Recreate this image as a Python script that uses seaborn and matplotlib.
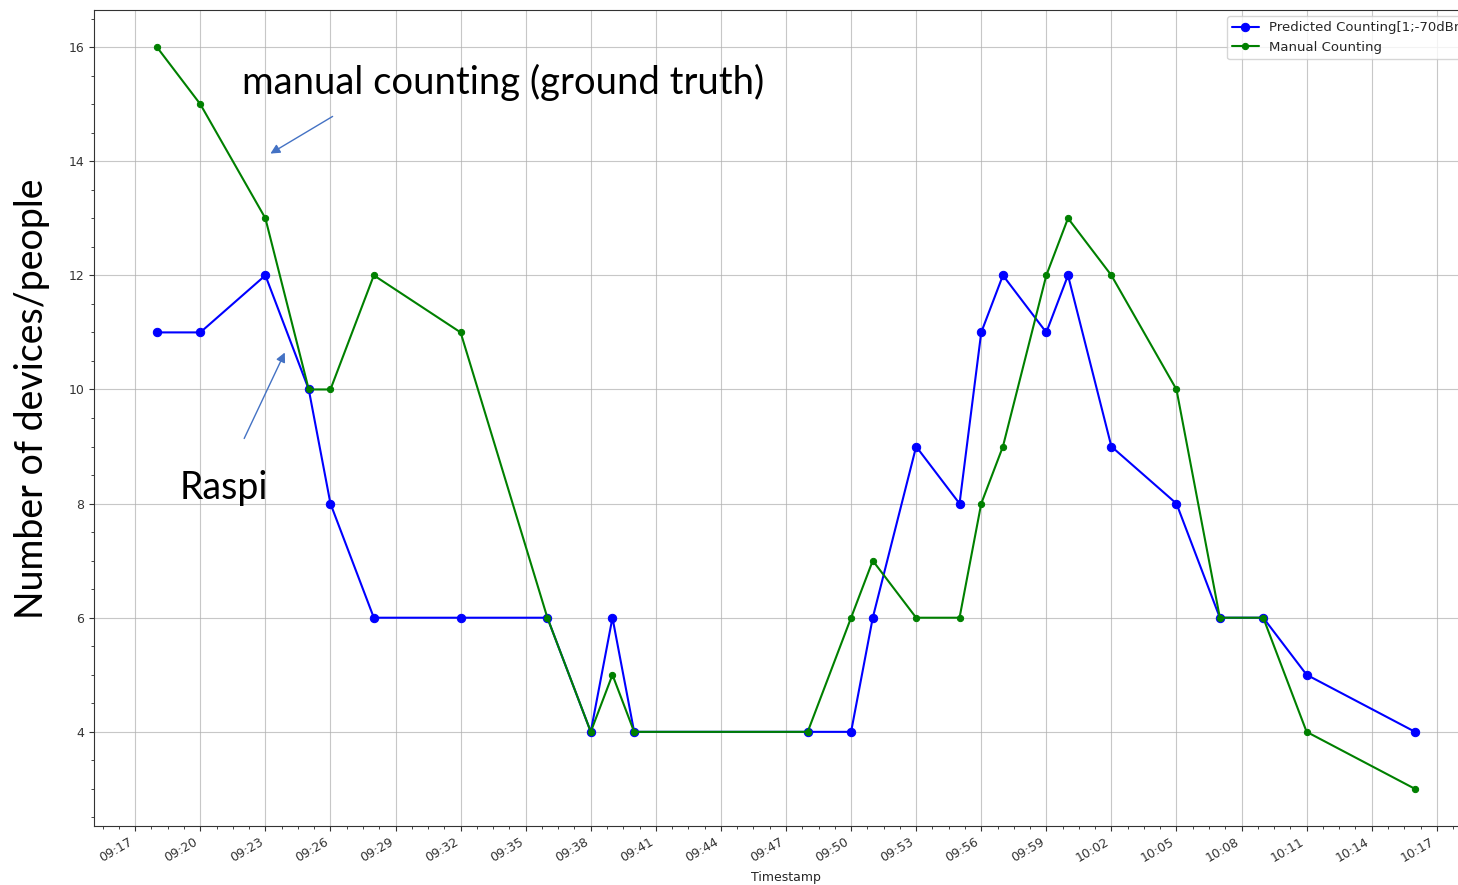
import matplotlib
matplotlib.use("Agg")
import matplotlib.pyplot as plt
import matplotlib.dates as mdates
from matplotlib.ticker import AutoMinorLocator
import pandas as pd
import seaborn as sns

# timestamps and counts
times = ["09:18", "09:20", "09:23", "09:25", "09:26", "09:28", "09:32", "09:36",
         "09:38", "09:39", "09:40", "09:48", "09:50", "09:51", "09:53", "09:55",
         "09:56", "09:57", "09:59", "10:00", "10:02", "10:05", "10:07", "10:09",
         "10:11", "10:16"]
predicted = [11, 11, 12, 10, 8, 6, 6, 6, 4, 6, 4, 4, 4, 6, 9, 8,
             11, 12, 11, 12, 9, 8, 6, 6, 5, 4]
manual = [16, 15, 13, 10, 10, 12, 11, 6, 4, 5, 4, 4, 6, 7, 6, 6,
          8, 9, 12, 13, 12, 10, 6, 6, 4, 3]

df = pd.DataFrame({
    "Timestamp": pd.to_datetime(["2020-01-01 " + t for t in times]),
    "predicted": predicted,
    "manual": manual,
})

sns.set_style("ticks")
W, H = 1458, 885
fig = plt.figure(figsize=(W / 100, H / 100), dpi=100)
ax = fig.add_axes([94 / W, (H - 826) / H, (1478 - 94) / W, (826 - 10) / H])

sns.lineplot(data=df, x="Timestamp", y="predicted", ax=ax, color="blue",
             marker="o", markersize=6, markeredgecolor="blue", linewidth=1.5,
             label="Predicted Counting[1;-70dBm]")
sns.lineplot(data=df, x="Timestamp", y="manual", ax=ax, color="green",
             marker="o", markersize=4.5, markeredgecolor="green", linewidth=1.5,
             label="Manual Counting")

ax.xaxis.set_major_locator(mdates.MinuteLocator(byminute=range(2, 60, 3)))
ax.xaxis.set_major_formatter(mdates.DateFormatter("%H:%M"))
ax.xaxis.set_minor_locator(AutoMinorLocator(4))
ax.yaxis.set_minor_locator(AutoMinorLocator(4))
ax.set_yticks([4, 6, 8, 10, 12, 14, 16])
ax.grid(True, which="major", color="#b0b0b0", linewidth=0.8, alpha=0.7)
for s in ax.spines.values():
    s.set_color("#333333")
ax.tick_params(labelsize=9, colors="#333333")
plt.setp(ax.get_xticklabels(), rotation=30, ha="right")
ax.set_xlabel("Timestamp", fontsize=9)
ax.set_ylabel("")

ax.legend(loc="upper left", bbox_to_anchor=((1227 - 94) / 1384, (826 - 16) / 816),
          borderaxespad=0, fontsize=9.5, framealpha=0.8)

# overlaid slide annotations
fig.text(242 / W, 1 - 82 / H, "manual counting (ground truth)", fontsize=27.5,
         family="Lato", va="center", ha="left", color="black")
fig.text(180 / W, 1 - 488 / H, "Raspi", fontsize=27, family="Lato",
         va="center", ha="left", color="black")
fig.text(32 / W, 1 - 399 / H, "Number of devices/people", fontsize=27,
         family="Lato", rotation=90, va="center", ha="center", color="black")

arrow = dict(arrowstyle="-|>", color="#4472C4", lw=1, mutation_scale=14)
ax.annotate("", xy=(268, H - 155), xytext=(335, H - 115),
            xycoords="figure pixels", textcoords="figure pixels", arrowprops=arrow)
ax.annotate("", xy=(286, H - 350), xytext=(243, H - 441),
            xycoords="figure pixels", textcoords="figure pixels", arrowprops=arrow)

fig.savefig("out.png", dpi=100)
